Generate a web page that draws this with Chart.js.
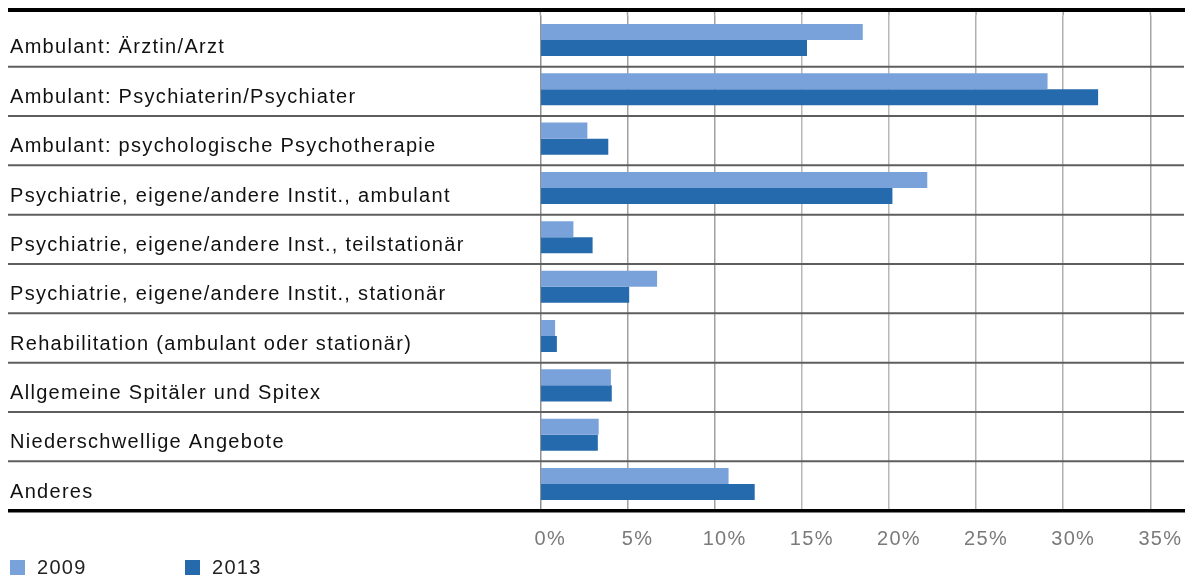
<!DOCTYPE html>
<html>
<head>
<meta charset="utf-8">
<script src="https://cdn.jsdelivr.net/npm/chart.js@4"></script>
<style>
	html, body { margin: 0; padding: 0; background: #fff; }
	#wrap { width: 1192px; height: 581px; position: relative; }
</style>
</head>
<body>
<div id="wrap"><canvas id="myChart"></canvas></div>
<script>
// Data (percent)
const categories = [
	"Ambulant: Ärztin/Arzt",
	"Ambulant: Psychiaterin/Psychiater",
	"Ambulant: psychologische Psychotherapie",
	"Psychiatrie, eigene/andere Instit., ambulant",
	"Psychiatrie, eigene/andere Inst., teilstationär",
	"Psychiatrie, eigene/andere Instit., stationär",
	"Rehabilitation (ambulant oder stationär)",
	"Allgemeine Spitäler und Spitex",
	"Niederschwellige Angebote",
	"Anderes"
];
const values2009 = [18.5, 29.1, 2.7, 22.2, 1.9, 6.7, 0.85, 4.05, 3.35, 10.8];
const values2013 = [15.3, 32.0, 3.9, 20.2, 3.0, 5.1, 0.95, 4.1, 3.3, 12.3];
const seriesLabels = ["2009", "2013"];
const seriesColors = ["#79a2db", "#246aac"];
const xTicks = [0, 5, 10, 15, 20, 25, 30, 35];

const FONT = "'Liberation Sans', Arial, sans-serif";

// separators, rules and the legend row
const framePlugin = {
	id: "frame",
	beforeDraw(chart) {
		chart.ctx.letterSpacing = "1.3px";
	},
	beforeDatasetsDraw(chart) {
		const ctx = chart.ctx;
		const ys = chart.scales.y;
		const xs = chart.scales.x;
		const area = chart.chartArea;
		ctx.save();
		// gridlines up to the top rule
		ctx.strokeStyle = "#a0a0a0";
		ctx.lineWidth = 1.5;
		xs.ticks.forEach((t) => {
			const px = xs.getPixelForValue(t.value);
			ctx.beginPath();
			ctx.moveTo(px, 10);
			ctx.lineTo(px, area.top);
			ctx.stroke();
		});
		// row separators
		ctx.strokeStyle = "#5e5e5e";
		ctx.lineWidth = 2;
		for (let i = 0; i < categories.length - 1; i++) {
			const py = (ys.getPixelForValue(i) + ys.getPixelForValue(i + 1)) / 2 + 2;
			ctx.beginPath();
			ctx.moveTo(8, py);
			ctx.lineTo(1184, py);
			ctx.stroke();
		}
		// top and bottom rules
		ctx.strokeStyle = "#000";
		ctx.lineWidth = 4;
		ctx.beginPath();
		ctx.moveTo(8, 10);
		ctx.lineTo(1185, 10);
		ctx.stroke();
		ctx.lineWidth = 3.5;
		ctx.beginPath();
		ctx.moveTo(8, area.bottom + 2);
		ctx.lineTo(1185, area.bottom + 2);
		ctx.stroke();
		ctx.restore();
	},
	afterDraw(chart) {
		const ctx = chart.ctx;
		ctx.save();
		ctx.font = "20px " + FONT;
		ctx.textBaseline = "middle";
		ctx.textAlign = "left";
		chart.data.datasets.forEach((ds, i) => {
			const x0 = 10 + i * 175;
			ctx.fillStyle = ds.backgroundColor;
			ctx.fillRect(x0, 560, 15, 15);
			ctx.fillStyle = "#222";
			ctx.fillText(ds.label, x0 + 27, 568);
		});
		ctx.restore();
	}
};

const gridColors = ["#909090", "#a0a0a0", "#a0a0a0", "#b8b8b8", "#b8b8b8", "#b0b0b0", "#b0b0b0", "#a4a4a4"];

var ctx = document.getElementById("myChart").getContext("2d");
var chart = new Chart(ctx, {
	type: "bar",
	data: {
		labels: categories,
		datasets: [
			{ label: seriesLabels[0], data: values2009, backgroundColor: seriesColors[0] },
			{ label: seriesLabels[1], data: values2013, backgroundColor: seriesColors[1] }
		]
	},
	options: {
		indexAxis: "y",
		responsive: true,
		maintainAspectRatio: false,
		animation: false,
		categoryPercentage: 0.65,
		barPercentage: 1.0,
		layout: {
			padding: { left: 10, top: 15.3, right: 41.6, bottom: 0 }
		},
		scales: {
			x: {
				min: 0,
				max: 35,
				afterBuildTicks: (scale) => {
					scale.ticks = xTicks.map((v) => ({ value: v }));
				},
				afterFit: (scale) => {
					scale.height = 72.3;
				},
				border: { display: false },
				grid: {
					drawTicks: false,
					lineWidth: 1.5,
					color: (c) => gridColors[c.index] || "#aaa"
				},
				ticks: {
					color: "#7a7a7a",
					font: { family: FONT, size: 20 },
					padding: 19,
					labelOffset: 10,
					maxRotation: 0,
					callback: (v) => v + "%"
				}
			},
			y: {
				afterFit: (scale) => {
					scale.width = 530.3;
				},
				border: { display: false },
				grid: { display: false },
				ticks: {
					crossAlign: "far",
					color: "#111",
					font: { family: FONT, size: 20 },
					labelOffset: 8,
					autoSkip: false
				}
			}
		},
		plugins: {
			legend: { display: false },
			tooltip: { enabled: false }
		}
	},
	plugins: [framePlugin]
});
</script>
</body>
</html>
